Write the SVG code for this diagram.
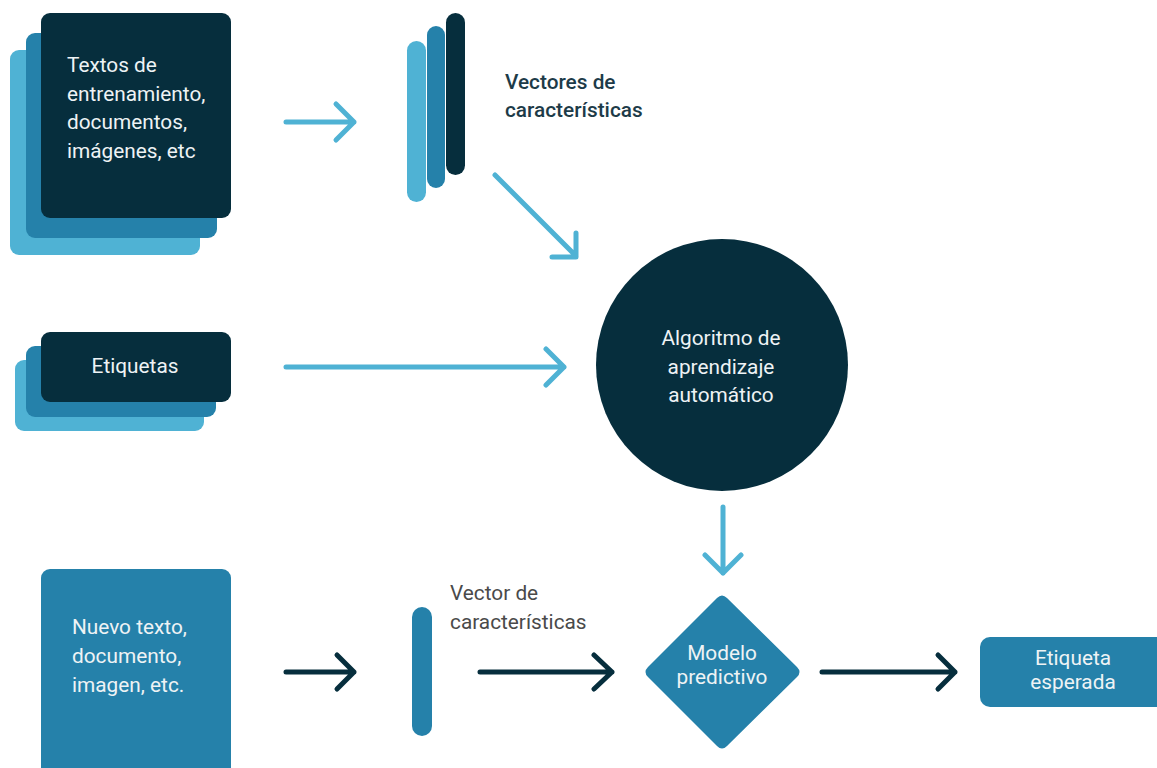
<svg xmlns="http://www.w3.org/2000/svg" width="1157" height="768" viewBox="0 0 1157 768">
<defs>
<style>
.dark{fill:#062e3d}
.mid{fill:#2581aa}
.light{fill:#4fb2d4}
.lbl{font-family:Roboto,"Liberation Sans",sans-serif;font-size:20.8px;fill:#eef3f5}
.mid-t{text-anchor:middle}
.cap{font-family:Roboto,"Liberation Sans",sans-serif;font-size:20.8px}
.conn-l{fill:none;stroke:#4fb2d4;stroke-width:5;stroke-linecap:round;stroke-linejoin:round}
.conn-d{fill:none;stroke:#062e3d;stroke-width:5;stroke-linecap:round;stroke-linejoin:round}
</style>
</defs>
<rect width="1157" height="768" fill="#ffffff"/>

<g id="textos">
<rect class="light" x="10" y="50" width="190" height="205" rx="9"/>
<rect class="mid" x="26" y="33" width="191" height="205" rx="9"/>
<rect class="dark" x="41" y="13" width="190" height="205" rx="9"/>
<text class="lbl" x="67" y="72">Textos de</text>
<text class="lbl" x="67" y="100.5">entrenamiento,</text>
<text class="lbl" x="67" y="129">documentos,</text>
<text class="lbl" x="67" y="157.5">imágenes, etc</text>
</g>

<g id="vectores">
<rect class="light" x="407" y="41" width="19" height="161" rx="9.5"/>
<rect class="mid" x="427" y="26" width="18" height="162" rx="9"/>
<rect class="dark" x="446" y="13" width="19" height="162" rx="9.5"/>
<text class="cap" x="505" y="89" fill="#1d3b48" font-weight="500">Vectores de</text>
<text class="cap" x="505" y="117" fill="#1d3b48" font-weight="500">características</text>
</g>

<g id="etiquetas">
<rect class="light" x="15" y="360" width="189" height="71" rx="9"/>
<rect class="mid" x="26" y="346" width="190" height="71" rx="9"/>
<rect class="dark" x="41" y="332" width="190" height="70" rx="9"/>
<text class="lbl mid-t" x="135" y="373">Etiquetas</text>
</g>

<g id="algoritmo">
<circle class="dark" cx="722" cy="365" r="126"/>
<text class="lbl mid-t" x="721" y="345">Algoritmo de</text>
<text class="lbl mid-t" x="721" y="373.5">aprendizaje</text>
<text class="lbl mid-t" x="721" y="402">automático</text>
</g>

<g id="nuevo">
<rect class="mid" x="41" y="569" width="190" height="220" rx="9"/>
<text class="lbl" x="72" y="634">Nuevo texto,</text>
<text class="lbl" x="72" y="663">documento,</text>
<text class="lbl" x="72" y="692">imagen, etc.</text>
</g>

<g id="vector">
<rect class="mid" x="412" y="607" width="20" height="129" rx="10"/>
<text class="cap" x="450" y="600" fill="#4a4a4a">Vector de</text>
<text class="cap" x="450" y="629" fill="#4a4a4a">características</text>
</g>

<g id="modelo">
<path class="mid" d="M717,598 Q722,593 727,598 L797,667 Q802,672 797,677 L727,746 Q722,751 717,746 L648,677 Q643,672 648,667 Z"/>
<text class="lbl mid-t" x="722" y="660">Modelo</text>
<text class="lbl mid-t" x="722" y="684">predictivo</text>
</g>

<g id="esperada">
<rect class="mid" x="980" y="637" width="190" height="70" rx="10"/>
<text class="lbl mid-t" x="1073" y="665">Etiqueta</text>
<text class="lbl mid-t" x="1073" y="689">esperada</text>
</g>

<g id="connectors">
<path class="conn-l" d="M286,122 H354 M336,104 L354,122 L336,140"/>
<path class="conn-l" d="M495,175 L576,256 M576,233 V257 H552"/>
<path class="conn-l" d="M286,367 H564 M546,349 L564,367 L546,385"/>
<path class="conn-l" d="M723,507 V573 M705,555 L723,573 L741,555"/>
<path class="conn-d" d="M286,672 H354 M337,655 L354,672 L337,689"/>
<path class="conn-d" d="M480,672 H612 M594,655 L612,672 L594,689"/>
<path class="conn-d" d="M822,672 H955 M938,655 L955,672 L938,689"/>
</g>
</svg>
